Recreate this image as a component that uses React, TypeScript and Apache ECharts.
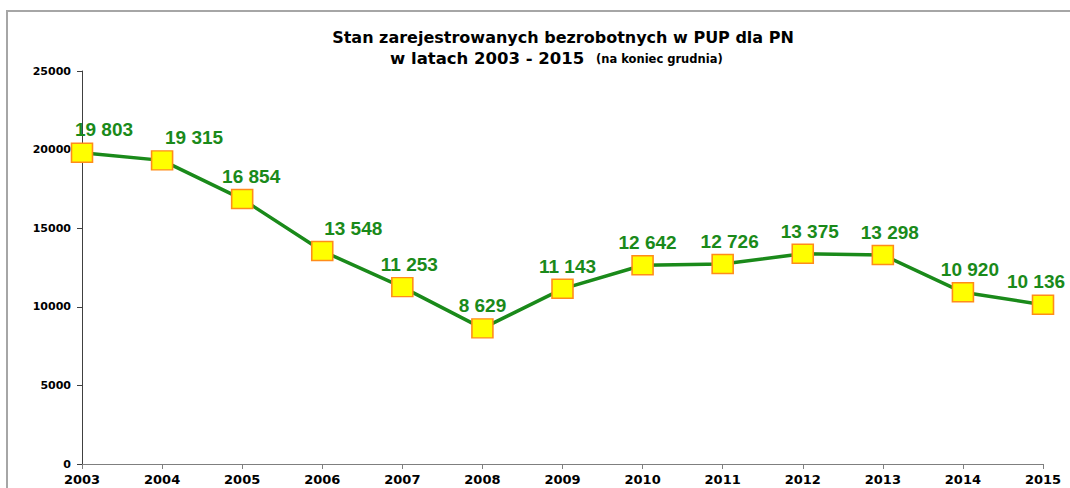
import React, { useEffect, useRef } from "react";
import * as echarts from "echarts";

const years = ["2003", "2004", "2005", "2006", "2007", "2008", "2009", "2010", "2011", "2012", "2013", "2014", "2015"];
const unemployed = [19803, 19315, 16854, 13548, 11253, 8629, 11143, 12642, 12726, 13375, 13298, 10920, 10136];
const labelShiftX = [22, 32, 9, 31, 7, 0, 5, 5, 7, 7, 7, 7, -7];

const fmt = (v: number) => {
  const s = String(v);
  return s.length > 3 ? s.slice(0, s.length - 3) + " " + s.slice(-3) : s;
};

export default function App() {
  const ref = useRef<HTMLDivElement>(null);
  useEffect(() => {
    if (!ref.current) return;
    const chart = echarts.init(ref.current, undefined, { renderer: "svg" });
    chart.setOption({
      animation: false,
      backgroundColor: "#ffffff",
      grid: { left: 82, right: 27, top: 71, bottom: 24, containLabel: false },
      graphic: [
        {
          type: "rect",
          shape: { x: 7, y: 11, width: 1100, height: 520 },
          style: { fill: "none", stroke: "#a6a6a6", lineWidth: 2 },
          silent: true,
        },
        {
          type: "text",
          x: 563,
          y: 37,
          style: {
            text: "Stan zarejestrowanych bezrobotnych w PUP dla PN",
            font: "bold 16px 'DejaVu Sans', sans-serif",
            fill: "#000",
            align: "center",
            verticalAlign: "middle",
          },
        },
        {
          type: "text",
          x: 390,
          y: 58,
          style: {
            text: "w latach 2003 - 2015",
            font: "bold 16.5px 'DejaVu Sans', sans-serif",
            fill: "#000",
            align: "left",
            verticalAlign: "middle",
          },
        },
        {
          type: "text",
          x: 596,
          y: 59,
          style: {
            text: "(na koniec grudnia)",
            font: "bold 11.5px 'DejaVu Sans', sans-serif",
            fill: "#000",
            align: "left",
            verticalAlign: "middle",
          },
        },
      ],
      xAxis: {
        type: "category",
        data: years,
        boundaryGap: false,
        axisLine: { lineStyle: { color: "#7f7f7f", width: 1 } },
        axisTick: { show: true, length: 5, alignWithLabel: true, lineStyle: { color: "#7f7f7f" } },
        axisLabel: {
          color: "#000",
          fontFamily: "'DejaVu Sans', sans-serif",
          fontWeight: "bold",
          fontSize: 13,
          margin: 9,
          interval: 0,
        },
        splitLine: { show: false },
      },
      yAxis: {
        type: "value",
        min: 0,
        max: 25000,
        interval: 5000,
        axisLine: { show: true, lineStyle: { color: "#404040", width: 1 } },
        axisTick: { show: true, length: 5, lineStyle: { color: "#404040" } },
        axisLabel: {
          color: "#000",
          fontFamily: "'DejaVu Sans', sans-serif",
          fontWeight: "bold",
          fontSize: 11,
          margin: 11,
          formatter: (v: number) => String(v),
        },
        splitLine: { show: false },
      },
      series: [
        {
          type: "line",
          data: unemployed.map((v, i) => ({
            value: v,
            label: { offset: [labelShiftX[i], 0] },
          })),
          symbol: "rect",
          symbolSize: [21, 19],
          lineStyle: { color: "#1a8a1a", width: 3.5 },
          itemStyle: { color: "#ffff00", borderColor: "#ff8c1a", borderWidth: 1.5 },
          z: 3,
          label: {
            show: true,
            position: "top",
            distance: 3,
            color: "#1a8a1a",
            fontFamily: "'Liberation Sans', Arial, sans-serif",
            fontWeight: "bold",
            fontSize: 19,
            formatter: (p: any) => fmt(p.value),
          },
        },
      ],
    });
    return () => chart.dispose();
  }, []);
  return (
    <div
      ref={ref}
      style={{ position: "fixed", left: 0, top: 0, width: 1070, height: 488 }}
    />
  );
}
